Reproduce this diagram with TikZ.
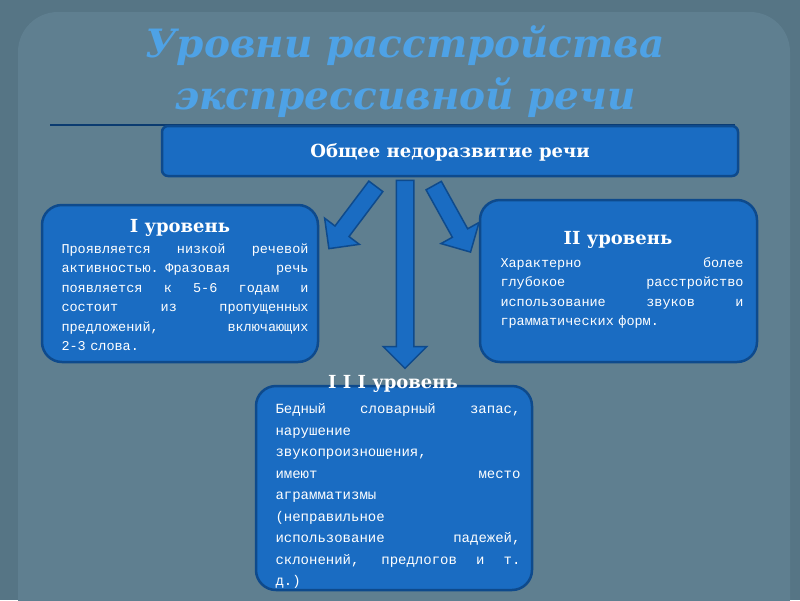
\documentclass[tikz,border=0pt]{standalone}
\usepackage{fontspec}
\setmainfont{Liberation Serif}
\newfontfamily\titlefont{DejaVu Serif}
\newfontfamily\monof{Liberation Mono}
\usetikzlibrary{shapes.arrows}
\definecolor{bg}{HTML}{567585}
\definecolor{panel}{HTML}{5F7F90}
\definecolor{ttl}{HTML}{4EA2E6}
\definecolor{boxf}{HTML}{1A6CC2}
\definecolor{boxd}{HTML}{0E4A8C}
\newcommand{\jl}[1]{\leavevmode\hbox to\linewidth{\spaceskip=0.6em plus 1fil\relax #1}}
\tikzset{
 lvl/.style={draw=boxd, line width=2.5pt, fill=boxf, rounded corners=20pt},
 body/.style={text=white, font=\monof\fontsize{13.5}{19.5}\selectfont, align=left, anchor=north west},
 head/.style={text=white, font=\titlefont\bfseries\fontsize{18}{22}\selectfont},
 barrow/.style={single arrow, draw=boxd, line width=1.5pt, fill=boxf, inner sep=8pt, single arrow head extend=13pt, minimum width=16pt}
}
\begin{document}
\begin{tikzpicture}[x=1pt,y=-1pt]
\fill[bg] (0,0) rectangle (800,600);
\useasboundingbox (0,0) rectangle (800,600);
\fill[panel, rounded corners=40pt] (18,12) rectangle (790,640);
\node[text=ttl, font=\titlefont\bfseries\itshape\fontsize{39}{52}\selectfont, align=center] (title) at (405,72) {Уровни расстройства\\экспрессивной речи};
\draw[boxd!80!black, line width=1.2pt] (50,125) coordinate (l1) -- (735,125) coordinate (l2);
\draw[lvl, rounded corners=6pt] (162,126) rectangle (738,176);
\node[head, font=\titlefont\bfseries\fontsize{18}{24}\selectfont] (top) at (450,152) {Общее недоразвитие речи};
% arrows
\node[barrow, minimum height=188pt, rotate=-90] (am) at (405,270) {};
\node[barrow, minimum height=78pt, rotate=-127] (al) at (355,214) {};
\node[barrow, minimum height=76pt, rotate=-61] (ar) at (450,215) {};
% left
\draw[lvl] (42,205) rectangle (318,362);
\node[head] (h1) at (180,228) {I уровень};
\node[body, text width=247pt] (t1) at (58,240) {\jl{Проявляется низкой речевой}\\\jl{активностью. Фразовая речь}\\\jl{появляется к 5-6 годам и}\\\jl{состоит из пропущенных}\\\jl{предложений, включающих}\\2-3 слова.};
% right
\draw[lvl] (480,200) rectangle (757,362);
\node[head] (h2) at (618,240) {II уровень};
\node[body, text width=243pt] (t2) at (497,254) {\jl{Характерно более}\\\jl{глубокое расстройство}\\\jl{использование звуков и}\\грамматических форм.};
% bottom
\draw[lvl] (256,386) rectangle (532,590);
\node[head] (h3) at (393,384) {I I I уровень};
\node[body, text width=245pt, font=\monof\fontsize{14}{21.5}\selectfont] (t3) at (272,400) {\jl{Бедный словарный запас,}\\нарушение\\звукопроизношения,\\\jl{имеют место}\\аграмматизмы\\(неправильное\\\jl{использование падежей,}\\\jl{склонений, предлогов и т.}\\д.)};
\end{tikzpicture}
\end{document}
